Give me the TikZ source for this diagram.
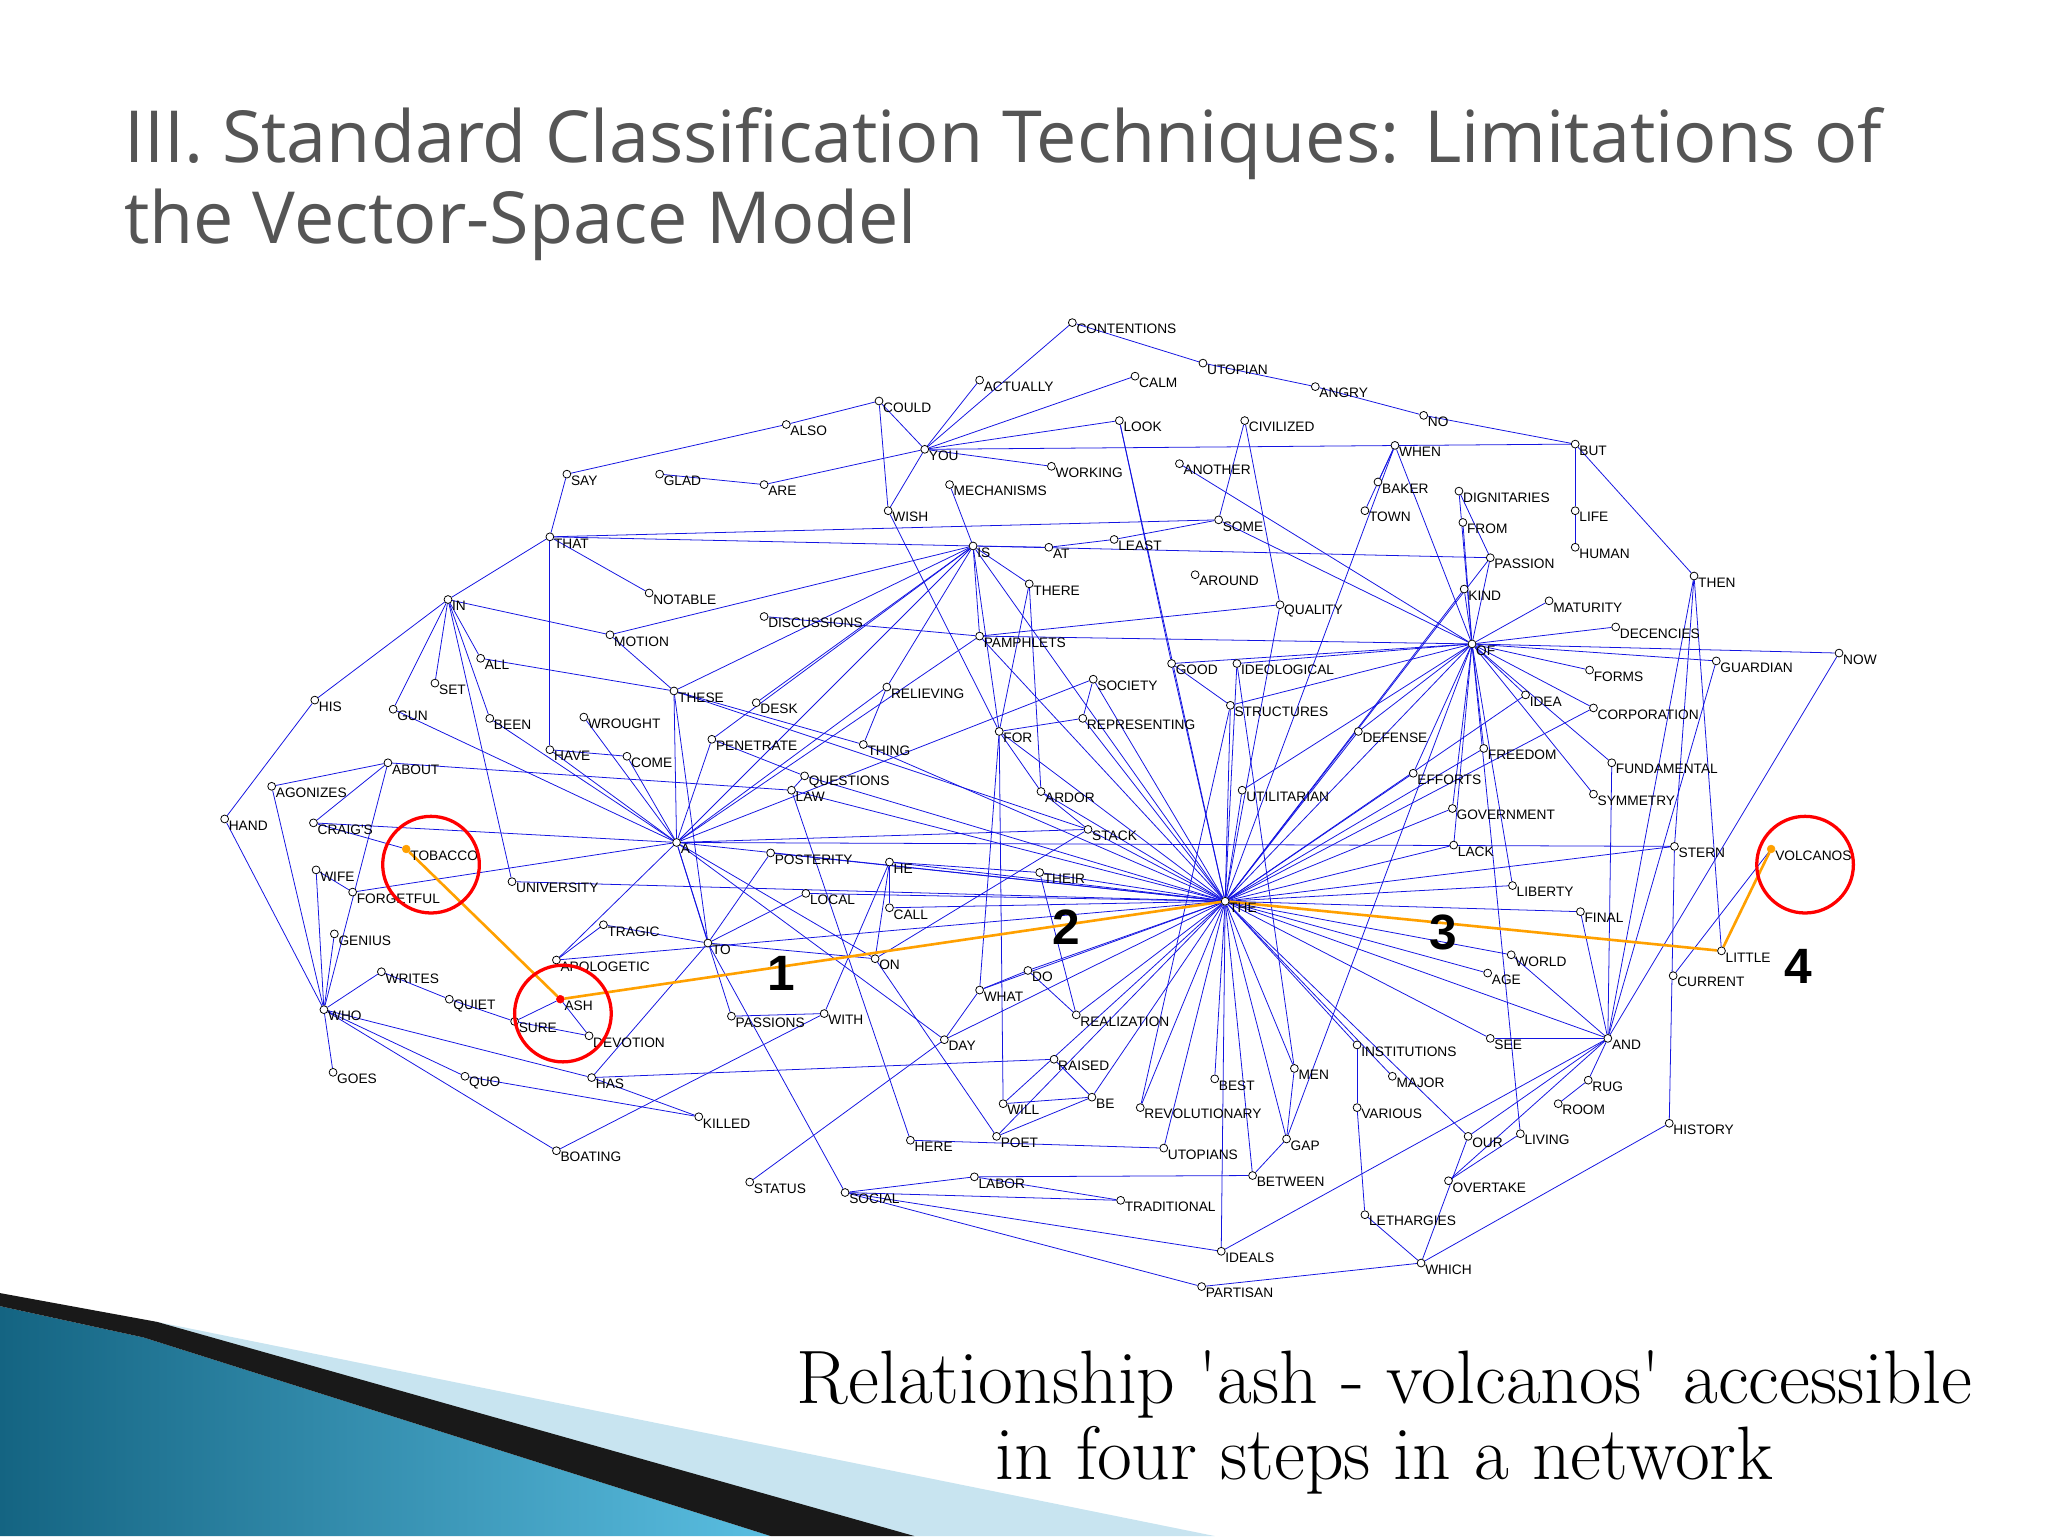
\documentclass[tikz,border=0pt]{standalone}
\usepackage{fontspec}
\setmainfont{Latin Modern Roman}
\newfontfamily\labf{Liberation Sans}
\newfontfamily\titf{Open Sans}
\usetikzlibrary{backgrounds}
\definecolor{eblue}{RGB}{20,20,225}
\definecolor{orng}{RGB}{255,160,0}
\definecolor{titg}{RGB}{85,85,85}
\definecolor{lcyan}{RGB}{200,228,240}
\definecolor{dteal}{RGB}{20,100,130}
\definecolor{mteal}{RGB}{90,190,225}
\tikzset{
 dot/.style={circle,draw=black,fill=white,line width=0.6pt,inner sep=0pt,minimum size=6pt},
 lab/.style={anchor=west,xshift=2pt,yshift=-5pt,inner sep=1pt,font=\labf\fontsize{10.5}{12}\selectfont},
 edge/.style={draw=eblue,line width=0.6pt},
 opath/.style={draw=orng,line width=2pt},
 rcirc/.style={draw=red,line width=2.5pt}
}
\newcommand\nd[4]{\node[dot] (#1) at (#2,#3) {}; \node[lab] at (#2,#3) {#4};}
\begin{document}
\begin{tikzpicture}[x=1pt,y=-1pt]
\useasboundingbox (0,0) rectangle (1568,1176);
% decoration
\fill[lcyan] (120,1012) -- (930,1176) -- (690,1176) -- cycle;
\shade[left color=dteal, right color=mteal] (0,1000) -- (110,1024) -- (590,1176) -- (0,1176) -- cycle;
\fill[black!90] (0,990) -- (120,1012) -- (700,1176) -- (590,1176) -- (110,1024) -- (0,1000) -- cycle;
% title
\node[anchor=west,text=titg,font=\titf\fontsize{55}{66}\selectfont,inner sep=0pt] at (95,110) {III. Standard Classification Techniques: Limitations of};
\node[anchor=west,text=titg,font=\titf\fontsize{55}{66}\selectfont,inner sep=0pt] at (95,172) {the Vector-Space Model};
\node[align=center,font=\fontsize{58}{58}\selectfont,inner sep=0pt] at (1060,1089) {Relationship \textquotesingle ash - volcanos\textquotesingle\ accessible\\in four steps in a network};
% nodes
\nd{contentions}{821}{247}{CONTENTIONS}
\nd{utopian}{921}{278}{UTOPIAN}
\nd{angry}{1007}{296}{ANGRY}
\nd{no}{1090}{318}{NO}
\nd{but}{1206}{340}{BUT}
\nd{calm}{869}{288}{CALM}
\nd{actually}{750}{291}{ACTUALLY}
\nd{could}{673}{307}{COULD}
\nd{also}{602}{325}{ALSO}
\nd{you}{708}{344}{YOU}
\nd{look}{857}{322}{LOOK}
\nd{civilized}{953}{322}{CIVILIZED}
\nd{when}{1068}{341}{WHEN}
\nd{say}{434}{363}{SAY}
\nd{glad}{505}{363}{GLAD}
\nd{are}{585}{371}{ARE}
\nd{working}{805}{357}{WORKING}
\nd{another}{903}{355}{ANOTHER}
\nd{mechanisms}{727}{371}{MECHANISMS}
\nd{baker}{1055}{369}{BAKER}
\nd{dignitaries}{1117}{376}{DIGNITARIES}
\nd{town}{1045}{391}{TOWN}
\nd{from}{1120}{400}{FROM}
\nd{life}{1206}{391}{LIFE}
\nd{wish}{680}{391}{WISH}
\nd{that}{421}{411}{THAT}
\nd{is}{745}{418}{IS}
\nd{at}{803}{419}{AT}
\nd{least}{853}{413}{LEAST}
\nd{some}{933}{398}{SOME}
\nd{passion}{1141}{427}{PASSION}
\nd{human}{1206}{419}{HUMAN}
\nd{then}{1297}{441}{THEN}
\nd{around}{915}{440}{AROUND}
\nd{there}{788}{447}{THERE}
\nd{notable}{497}{454}{NOTABLE}
\nd{in}{343}{459}{IN}
\nd{kind}{1121}{451}{KIND}
\nd{maturity}{1186}{460}{MATURITY}
\nd{quality}{980}{463}{QUALITY}
\nd{discussions}{585}{472}{DISCUSSIONS}
\nd{motion}{467}{486}{MOTION}
\nd{pamphlets}{750}{487}{PAMPHLETS}
\nd{of}{1127}{493}{OF}
\nd{decencies}{1237}{480}{DECENCIES}
\nd{all}{368}{504}{ALL}
\nd{good}{897}{508}{GOOD}
\nd{ideological}{947}{508}{IDEOLOGICAL}
\nd{forms}{1217}{513}{FORMS}
\nd{guardian}{1314}{506}{GUARDIAN}
\nd{now}{1408}{500}{NOW}
\nd{set}{333}{523}{SET}
\nd{society}{837}{520}{SOCIETY}
\nd{relieving}{679}{526}{RELIEVING}
\nd{these}{516}{529}{THESE}
\nd{idea}{1168}{532}{IDEA}
\nd{his}{241}{536}{HIS}
\nd{gun}{301}{543}{GUN}
\nd{desk}{579}{538}{DESK}
\nd{structures}{942}{540}{STRUCTURES}
\nd{corporation}{1220}{542}{CORPORATION}
\nd{been}{375}{550}{BEEN}
\nd{wrought}{447}{549}{WROUGHT}
\nd{representing}{829}{550}{REPRESENTING}
\nd{for}{765}{560}{FOR}
\nd{defense}{1040}{560}{DEFENSE}
\nd{thing}{661}{570}{THING}
\nd{penetrate}{545}{566}{PENETRATE}
\nd{freedom}{1136}{573}{FREEDOM}
\nd{have}{421}{574}{HAVE}
\nd{come}{480}{579}{COME}
\nd{about}{297}{584}{ABOUT}
\nd{fundamental}{1234}{584}{FUNDAMENTAL}
\nd{questions}{616}{594}{QUESTIONS}
\nd{efforts}{1082}{592}{EFFORTS}
\nd{agonizes}{208}{602}{AGONIZES}
\nd{law}{606}{605}{LAW}
\nd{ardor}{797}{606}{ARDOR}
\nd{utilitarian}{951}{605}{UTILITARIAN}
\nd{symmetry}{1220}{608}{SYMMETRY}
\nd{government}{1112}{619}{GOVERNMENT}
\nd{hand}{172}{627}{HAND}
\nd{craigs}{240}{630}{CRAIG'S}
\nd{stack}{833}{635}{STACK}
\nd{a}{518}{645}{A}
\nd{lack}{1113}{647}{LACK}
\nd{stern}{1282}{648}{STERN}
\nd{posterity}{590}{653}{POSTERITY}
\nd{he}{681}{660}{HE}
\nd{wife}{242}{666}{WIFE}
\nd{their}{796}{668}{THEIR}
\nd{university}{392}{675}{UNIVERSITY}
\nd{liberty}{1158}{678}{LIBERTY}
\nd{local}{617}{684}{LOCAL}
\nd{forgetful}{270}{683}{FORGETFUL}
\nd{call}{681}{695}{CALL}
\nd{the}{938}{690}{THE}
\nd{final}{1210}{698}{FINAL}
\nd{tragic}{462}{708}{TRAGIC}
\nd{genius}{256}{715}{GENIUS}
\nd{to}{542}{722}{TO}
\nd{little}{1318}{728}{LITTLE}
\nd{on}{670}{734}{ON}
\nd{apologetic}{426}{735}{APOLOGETIC}
\nd{world}{1157}{731}{WORLD}
\nd{writes}{292}{744}{WRITES}
\nd{do}{787}{743}{DO}
\nd{age}{1139}{745}{AGE}
\nd{current}{1281}{747}{CURRENT}
\nd{what}{750}{758}{WHAT}
\nd{quiet}{344}{765}{QUIET}
\nd{who}{248}{773}{WHO}
\nd{passions}{560}{778}{PASSIONS}
\nd{with}{631}{776}{WITH}
\nd{realization}{824}{777}{REALIZATION}
\nd{sure}{394}{782}{SURE}
\nd{devotion}{451}{793}{DEVOTION}
\nd{day}{723}{796}{DAY}
\nd{see}{1141}{795}{SEE}
\nd{and}{1231}{795}{AND}
\nd{institutions}{1039}{800}{INSTITUTIONS}
\nd{raised}{807}{811}{RAISED}
\nd{men}{991}{818}{MEN}
\nd{best}{930}{826}{BEST}
\nd{goes}{255}{821}{GOES}
\nd{quo}{356}{824}{QUO}
\nd{has}{453}{825}{HAS}
\nd{major}{1066}{824}{MAJOR}
\nd{rug}{1216}{827}{RUG}
\nd{be}{836}{840}{BE}
\nd{will}{768}{845}{WILL}
\nd{room}{1193}{845}{ROOM}
\nd{various}{1039}{848}{VARIOUS}
\nd{revolutionary}{873}{848}{REVOLUTIONARY}
\nd{killed}{535}{855}{KILLED}
\nd{history}{1278}{860}{HISTORY}
\nd{poet}{763}{870}{POET}
\nd{our}{1124}{870}{OUR}
\nd{living}{1164}{868}{LIVING}
\nd{here}{697}{873}{HERE}
\nd{utopians}{891}{879}{UTOPIANS}
\nd{gap}{985}{872}{GAP}
\nd{boating}{426}{881}{BOATING}
\nd{labor}{746}{901}{LABOR}
\nd{between}{959}{900}{BETWEEN}
\nd{overtake}{1109}{904}{OVERTAKE}
\nd{status}{574}{905}{STATUS}
\nd{social}{647}{913}{SOCIAL}
\nd{traditional}{858}{919}{TRADITIONAL}
\nd{lethargies}{1045}{930}{LETHARGIES}
\nd{ideals}{935}{958}{IDEALS}
\nd{which}{1088}{967}{WHICH}
\nd{partisan}{920}{985}{PARTISAN}
\node[circle,draw=orng,fill=orng,inner sep=0pt,minimum size=6pt] (tobacco) at (311,650) {};
\node[lab] at (311,650) {TOBACCO};
\node[circle,draw=orng,fill=orng,inner sep=0pt,minimum size=6pt] (volcanos) at (1356,650) {};
\node[lab] at (1356,650) {VOLCANOS};
\node[circle,draw=red,fill=red,inner sep=0pt,minimum size=6pt] (ash) at (429,765) {};
\node[lab] at (429,765) {ASH};
% step numbers
\foreach \n/\x/\y in {1/598/745,2/816/710,3/1105/714,4/1377/740}
  \node[font=\labf\bfseries\fontsize{38}{40}\selectfont] (s\n) at (\x,\y) {\n};
% circles
\node[rcirc,circle,minimum size=74pt] (c1) at (330,662) {};
\node[rcirc,circle,minimum size=74pt] (c2) at (431,776) {};
\node[rcirc,circle,minimum size=74pt] (c3) at (1382,662) {};
\begin{pgfonlayer}{background}
\foreach \a in {a,stack,ardor,thing,questions,representing,utilitarian,structures,defense,efforts,freedom,government,lack,of,idea,corporation,stern,liberty,final,world,age,and,see,institutions,major,men,best,revolutionary,gap,utopians,be,realization,do,what,call,he,local,their,look,is,pamphlets,for,good,society,ideological,quality,kind,when,passion,posterity,law,day,will,poet,ideals,between,our,university,apologetic}
  \draw[edge] (the) -- (\a);
\foreach \a in {when,some,from,kind,maturity,decencies,forms,guardian,idea,corporation,freedom,government,lack,efforts,defense,structures,ideological,good,pamphlets,utilitarian,liberty,fundamental,symmetry,another,passion,dignitaries,gap,now,living}
  \draw[edge] (of) -- (\a);
\foreach \a/\b in {contentions/you,contentions/utopian,utopian/angry,angry/no,no/but,calm/you,actually/you,could/you,could/also,also/say,say/that,glad/are,are/you,you/but,you/working,you/wish,you/look,could/wish,wish/for,look/good,civilized/some,civilized/quality,but/life,life/human,but/then,then/stern,now/and,guardian/and,when/town,when/baker,dignitaries/passion,that/is,that/have,that/in,that/notable,that/some,is/at,at/least,least/some,is/there,is/pamphlets,is/a,is/these,is/desk,is/penetrate,is/for,is/mechanisms,is/motion,is/passion,is/relieving,there/for,there/ardor,pamphlets/quality,pamphlets/discussions,pamphlets/a,in/all,in/set,in/gun,in/his,in/motion,in/been,in/university,all/these,these/thing,these/a,these/motion,these/stack,his/hand,hand/who,agonizes/who,agonizes/about,about/craigs,about/law,about/who,craigs/a,craigs/tobacco,wife/who,forgetful/a,forgetful/wife,genius/who,writes/who,writes/quiet,quiet/sure,sure/ash,sure/devotion,devotion/ash,apologetic/tragic,apologetic/a,who/has,who/quo,who/goes,who/boating,quo/killed,has/raised,has/to,killed/has,boating/with,status/day,social/ideals,social/traditional,social/labor,social/to,social/partisan,partisan/which,which/history,which/lethargies,which/our,ideals/and,lethargies/various,various/institutions,overtake/and,our/and,history/stern,room/rug,rug/and,and/see,and/world,and/final,and/fundamental,and/then,little/then,to/tragic,to/a,to/posterity,to/on,to/these,to/local,on/he,on/a,on/stack,on/poet,passions/a,passions/with,with/he,day/what,day/a,he/call,he/their,what/do,what/for,do/realization,realization/their,raised/be,be/will,will/for,poet/be,here/law,here/utopians,labor/between,between/gap,gap/men,men/ideological,revolutionary/structures,traditional/labor,have/come,come/a,have/a,wrought/a,been/a,gun/a,penetrate/a,penetrate/questions,questions/law,thing/relieving,relieving/a,society/a,society/representing,good/structures,for/ardor,for/representing,ardor/stack,stack/a,a/stern,current/volcanos,overtake/living}
  \draw[edge] (\a) -- (\b);
\draw[opath] (tobacco) -- (ash);
\draw[opath] (ash) -- (the);
\draw[opath] (the) -- (little);
\draw[opath] (little) -- (volcanos);
\end{pgfonlayer}
\end{tikzpicture}
\end{document}
